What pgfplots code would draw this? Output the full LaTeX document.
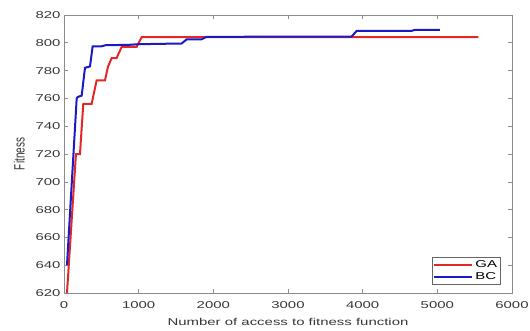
\documentclass[border=0pt]{standalone}
\usepackage{fontspec}
\setmainfont{Liberation Sans}[FakeStretch=1.5]
\newfontfamily\plainfont{Liberation Sans}
\usepackage{graphicx}
\usepackage{pgfplots}
\pgfplotsset{compat=1.18}
\definecolor{gared}{RGB}{228,38,38}
\definecolor{bcblue}{RGB}{25,25,200}
\definecolor{axgray}{RGB}{140,140,140}
\definecolor{txtgray}{RGB}{55,55,55}
\begin{document}
\begin{tikzpicture}
\begin{axis}[
  scale only axis, width=448bp, height=278bp,
  xmin=0, xmax=6000, ymin=620, ymax=820,
  xtick={0,1000,...,6000}, ytick={620,640,...,820},
  scaled x ticks=false,
  /pgf/number format/assume math mode=true,
  /pgf/number format/1000 sep={},
  tick align=inside, major tick length=4bp,
  axis line style={axgray, line width=0.6bp},
  tick style={axgray, line width=0.6bp},
  ticklabel style={font=\fontsize{10}{12}\selectfont, text=txtgray},
  xticklabel style={yshift=-5bp},
  xlabel={Number of access to fitness function},
  ylabel={\scalebox{1}[1.5]{\plainfont\fontsize{10}{12}\selectfont Fitness}},
  label style={font=\fontsize{10}{12}\selectfont, text=txtgray},
  xlabel style={yshift=-3bp},
  ylabel style={yshift=4bp},
  legend style={font=\fontsize{10}{12}\selectfont, draw=black!60, line width=0.5bp,
    at={(0.975,0.03)}, anchor=south east, inner sep=1.5bp, row sep=-1bp,
    cells={anchor=west}},
  legend image code/.code={\draw[#1, line width=2bp] (0bp,0bp) -- (38bp,0bp);},
]
\addplot[gared, line width=2bp] coordinates {
(40,620) (160,720) (214,720) (258,756) (370,756) (437,773) (549,773)
(590,783) (638,789) (705,789) (772,797) (973,797) (1040,804) (5549,804)
};
\addlegendentry{GA}
\addplot[bcblue, line width=2bp] coordinates {
(40,640) (170,760) (183,761) (237,762) (281,782) (348,783) (384,797.5)
(505,797.5) (560,798.3) (860,798.5) (1000,799) (1576,799.5) (1643,802.5)
(1843,802.5) (1910,804.3) (3852,804.5) (3919,808.5) (4655,808.6) (4700,809.3) (5035,809.3)
};
\addlegendentry{BC}
\end{axis}
\pgfresetboundingbox
\path[use as bounding box] (-64bp,-38bp) rectangle (466bp,293bp);
\end{tikzpicture}
\end{document}
